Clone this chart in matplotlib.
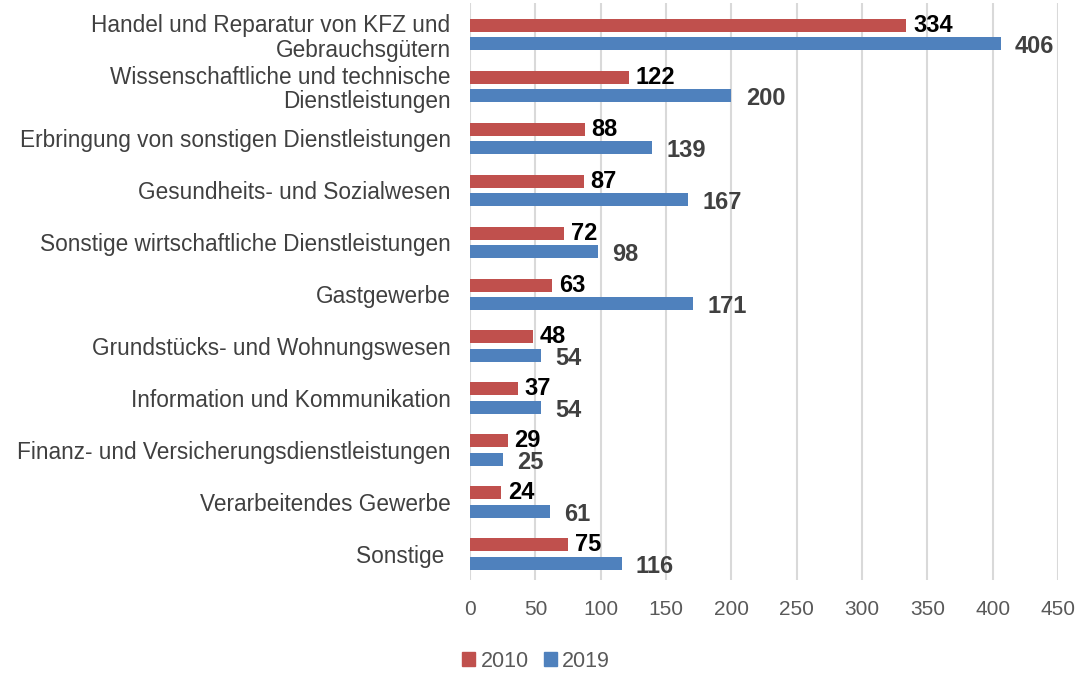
import matplotlib
matplotlib.use("Agg")
import matplotlib.pyplot as plt
import numpy as np
from matplotlib.patches import Patch

categories = [
    "Handel und Reparatur von KFZ und\nGebrauchsgütern",
    "Wissenschaftliche und technische\nDienstleistungen",
    "Erbringung von sonstigen Dienstleistungen",
    "Gesundheits- und Sozialwesen",
    "Sonstige wirtschaftliche Dienstleistungen",
    "Gastgewerbe",
    "Grundstücks- und Wohnungswesen",
    "Information und Kommunikation",
    "Finanz- und Versicherungsdienstleistungen",
    "Verarbeitendes Gewerbe",
    "Sonstige ",
]
values_2010 = [334, 122, 88, 87, 72, 63, 48, 37, 29, 24, 75]
values_2019 = [406, 200, 139, 167, 98, 171, 54, 54, 25, 61, 116]
xticks = [0, 50, 100, 150, 200, 250, 300, 350, 400, 450]

plt.rcParams['font.family'] = ['Liberation Sans', 'DejaVu Sans']

RED = "#C0504D"
BLUE = "#4F81BD"

fig = plt.figure(figsize=(10.83, 6.74), dpi=100)
ax = fig.add_axes([0.434, 0.1395, 0.543, 0.856])

n = len(categories)
y = np.arange(n)
h = 0.25
off = 0.175
ax.barh(y - off, values_2010, height=h, color=RED, zorder=3)
ax.barh(y + off, values_2019, height=h, color=BLUE, zorder=3)

for i in range(n):
    ax.text(values_2010[i] + 5, y[i] - off - 0.0, str(values_2010[i]),
            fontsize=17, fontweight='bold', color='black', va='center', ha='left', zorder=4)
    ax.text(values_2019[i] + 11, y[i] + off + 0.07, str(values_2019[i]),
            fontsize=17, fontweight='bold', color='#404040', va='center', ha='left', zorder=4)

ax.set_ylim(n - 0.5, -0.6)
ax.set_xlim(0, 450)
ax.set_xticks(xticks)
ax.set_xticklabels([str(t) for t in xticks], fontsize=15, color='#595959')
ax.set_yticks(y)
ax.set_yticklabels(categories, fontsize=16.3, color='#404040', linespacing=1.1)
ax.tick_params(axis='both', length=0)
ax.tick_params(axis='x', pad=14.5)
ax.tick_params(axis='y', pad=14)
for s in ax.spines.values():
    s.set_visible(False)
ax.grid(axis='x', color='#D9D9D9', linewidth=1.5, zorder=0)
ax.set_axisbelow(True)

handles = [Patch(color=RED, label='2010'), Patch(color=BLUE, label='2019')]
fig.legend(handles=handles, loc='center left', bbox_to_anchor=(0.409, 0.019), ncol=2,
           frameon=False, fontsize=15.5, handlelength=0.6, handleheight=0.6,
           handletextpad=0.25, columnspacing=0.7, labelcolor='#595959')

fig.savefig("out.png", dpi=100)
